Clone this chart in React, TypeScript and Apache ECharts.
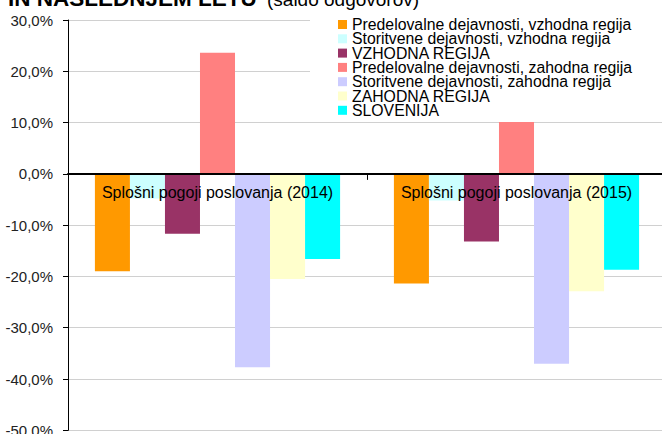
import React, { useEffect, useRef } from "react";
import * as echarts from "echarts";

const categories = ["Splošni pogoji poslovanja (2014)", "Splošni pogoji poslovanja (2015)"];
const seriesNames = [
  "Predelovalne dejavnosti, vzhodna regija",
  "Storitvene dejavnosti, vzhodna regija",
  "VZHODNA REGIJA",
  "Predelovalne dejavnosti, zahodna regija",
  "Storitvene dejavnosti, zahodna regija",
  "ZAHODNA REGIJA",
  "SLOVENIJA",
];
const eastManufacturing = [-19.0, -21.4];
const eastServices = [-4.8, -5.2];
const eastRegion = [-11.7, -13.2];
const westManufacturing = [23.6, 10.1];
const westServices = [-37.7, -37.0];
const westRegion = [-20.5, -22.9];
const slovenia = [-16.6, -18.7];
const seriesColors = ["#FF9900", "#CCFFFF", "#993366", "#FF8080", "#CCCCFF", "#FFFFCC", "#00FFFF"];
const yMin = -50;
const yMax = 30;
const yInterval = 10;

const FONT = "'Liberation Sans', Arial, sans-serif";

export default function App() {
  const ref = useRef<HTMLDivElement>(null);
  useEffect(() => {
    if (!ref.current) return;
    const chart = echarts.init(ref.current, undefined, { renderer: "svg" });
    const values = [eastManufacturing, eastServices, eastRegion, westManufacturing, westServices, westRegion, slovenia];
    const gridTop = 20;
    const gridHeight = 410.3;
    const zeroOffset = gridHeight * (0 - yMin) / (yMax - yMin);
    chart.setOption({
      animation: false,
      backgroundColor: "#ffffff",
      textStyle: { fontFamily: FONT },
      graphic: [
        {
          type: "text",
          x: 8,
          y: -13,
          z: 10,
          style: { text: "IN NASLEDNJEM LETU", font: `bold 22.5px ${FONT}`, fill: "#000" },
        },
        {
          type: "text",
          x: 267,
          y: -10.5,
          z: 10,
          style: { text: "(saldo odgovorov)", font: `19px ${FONT}`, fill: "#000" },
        },
      ],
      legend: {
        orient: "vertical",
        left: 310,
        top: 11.5,
        padding: [5, 30, 2, 28],
        backgroundColor: "#ffffff",
        itemWidth: 9,
        itemHeight: 9,
        itemGap: -1.7,
        icon: "rect",
        textStyle: { fontSize: 15.8, color: "#000", fontFamily: FONT },
        data: seriesNames,
      },
      grid: { left: 68, top: gridTop, width: 598, height: gridHeight, outerBoundsMode: "none", containLabel: false },
      xAxis: {
        type: "category",
        data: categories,
        z: 5,
        position: "bottom",
        offset: -zeroOffset,
        axisLine: { onZero: false, lineStyle: { color: "#000", width: 2 } },
        axisTick: { show: true, length: 6, interval: 0, lineStyle: { color: "#000", width: 1 } },
        axisLabel: { margin: 11, interval: 0, hideOverlap: false, fontSize: 16, color: "#000", fontFamily: FONT },
      },
      yAxis: {
        type: "value",
        min: yMin,
        max: yMax,
        interval: yInterval,
        axisLine: { show: true, lineStyle: { color: "#000", width: 1 } },
        axisTick: { show: true, length: 5, lineStyle: { color: "#000" } },
        axisLabel: {
          margin: 15,
          fontSize: 15,
          color: "#222",
          fontFamily: FONT,
          formatter: (v: number) => v.toFixed(1).replace(".", ",") + "%",
        },
        splitLine: { show: true, lineStyle: { color: "#d0d0d0", width: 1 } },
      },
      series: seriesNames.map((name, i) => ({
        name,
        type: "bar",
        data: values[i],
        barGap: "0%",
        barCategoryGap: "18%",
        itemStyle: { color: seriesColors[i] },
      })),
    });
    return () => chart.dispose();
  }, []);
  return <div ref={ref} style={{ position: "fixed", left: 0, top: 0, width: 662, height: 434 }} />;
}
